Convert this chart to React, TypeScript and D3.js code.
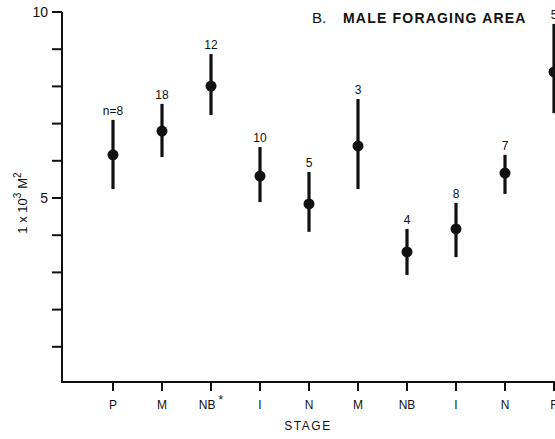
import React, { useEffect, useRef } from 'react'
import * as d3 from 'd3'

const stages = ['P', 'M', 'NB', 'I', 'N', 'M', 'NB', 'I', 'N', 'F']
const stageMarks = ['', '', '*', '', '', '', '', '', '', '']
const means = [6.16, 6.8, 8.01, 5.59, 4.84, 6.4, 3.55, 4.17, 5.67, 8.39]
const highs = [7.1, 7.53, 8.87, 6.37, 5.7, 7.66, 4.17, 4.87, 6.16, 9.68]
const lows = [5.24, 6.1, 7.23, 4.89, 4.09, 5.24, 2.93, 3.41, 5.11, 7.28]
const sampleLabels = ['n=8', '18', '12', '10', '5', '3', '4', '8', '7', '5']
const yTicks = [0, 1, 2, 3, 4, 5, 6, 7, 8, 9, 10]
const yTickLabels: Record<number, string> = { 5: '5', 10: '10' }

const App = () => {
     const svgRef = useRef<SVGSVGElement | null>(null)

     useEffect(() => {
          const width = 555
          const height = 439
          const axisX = 62
          const axisBottom = 384
          const font = '"Liberation Sans", Arial, sans-serif'

          const svg = d3.select(svgRef.current)
          svg.selectAll('*').remove()
          svg.attr('width', width).attr('height', height)

          const idx = stages.map((_, i) => String(i))
          const xScale = d3.scalePoint().domain(idx).range([113, 554])
          const yScale = d3.scaleLinear().domain([0, 10]).range([axisBottom, 12])

          const ink = '#111'

          // y axis
          svg.append('line')
               .attr('x1', axisX)
               .attr('x2', axisX)
               .attr('y1', yScale(10))
               .attr('y2', 382)
               .attr('stroke', ink)
               .attr('stroke-width', 2)
          svg.append('g')
               .selectAll('line')
               .data(yTicks.filter((t) => t > 0))
               .enter()
               .append('line')
               .attr('x1', axisX - 10)
               .attr('x2', axisX)
               .attr('y1', (d) => yScale(d))
               .attr('y2', (d) => yScale(d))
               .attr('stroke', ink)
               .attr('stroke-width', 2)
          svg.append('g')
               .selectAll('text')
               .data(yTicks.filter((t) => yTickLabels[t]))
               .enter()
               .append('text')
               .attr('x', axisX - 14)
               .attr('y', (d) => yScale(d) + 5)
               .attr('text-anchor', 'end')
               .style('font-family', font)
               .style('font-size', '14px')
               .style('fill', ink)
               .text((d) => yTickLabels[d])

          // x axis
          svg.append('line')
               .attr('x1', axisX - 1)
               .attr('x2', width)
               .attr('y1', 382)
               .attr('y2', 382)
               .attr('stroke', ink)
               .attr('stroke-width', 2)
          svg.append('g')
               .selectAll('line')
               .data(idx)
               .enter()
               .append('line')
               .attr('x1', (d) => xScale(d) as number)
               .attr('x2', (d) => xScale(d) as number)
               .attr('y1', 382)
               .attr('y2', 391)
               .attr('stroke', ink)
               .attr('stroke-width', 2)
          const xLabels = svg
               .append('g')
               .selectAll('text')
               .data(idx)
               .enter()
               .append('text')
               .attr('x', (d) => xScale(d) as number)
               .attr('y', 409)
               .attr('text-anchor', 'middle')
               .style('font-family', font)
               .style('font-size', '12px')
               .style('fill', ink)
               .text((d) => stages[+d])
          xLabels
               .filter((d) => stageMarks[+d] !== '')
               .append('tspan')
               .attr('dx', 3)
               .attr('dy', -5)
               .style('font-size', '12px')
               .text((d) => stageMarks[+d])

          svg.append('text')
               .attr('x', 308)
               .attr('y', 430)
               .attr('text-anchor', 'middle')
               .style('font-family', font)
               .style('font-size', '12px')
               .style('letter-spacing', '1.5px')
               .style('fill', ink)
               .text('STAGE')

          // y axis title
          const yTitle = svg
               .append('text')
               .attr('transform', 'translate(27,203) rotate(-90)')
               .attr('text-anchor', 'middle')
               .style('font-family', font)
               .style('font-size', '13px')
               .style('fill', ink)
          yTitle.append('tspan').text('1 x 10')
          yTitle.append('tspan').attr('dy', -6).style('font-size', '10px').text('3')
          yTitle.append('tspan').attr('dy', 6).attr('dx', 4).text('M')
          yTitle.append('tspan').attr('dy', -6).style('font-size', '10px').text('2')

          // title
          svg.append('text')
               .attr('x', 312)
               .attr('y', 23)
               .style('font-family', font)
               .style('font-size', '15px')
               .style('fill', ink)
               .text('B.')
          svg.append('text')
               .attr('x', 343)
               .attr('y', 23)
               .style('font-family', font)
               .style('font-size', '14px')
               .style('font-weight', 'bold')
               .style('letter-spacing', '1.2px')
               .style('fill', ink)
               .text('MALE FORAGING AREA')

          // error bars + means
          const pts = svg.append('g')
          pts.selectAll('line')
               .data(idx)
               .enter()
               .append('line')
               .attr('x1', (d) => xScale(d) as number)
               .attr('x2', (d) => xScale(d) as number)
               .attr('y1', (d) => yScale(highs[+d]))
               .attr('y2', (d) => yScale(lows[+d]))
               .attr('stroke', ink)
               .attr('stroke-width', 3.2)
          pts.selectAll('circle')
               .data(idx)
               .enter()
               .append('circle')
               .attr('cx', (d) => xScale(d) as number)
               .attr('cy', (d) => yScale(means[+d]))
               .attr('r', 5.5)
               .attr('fill', ink)
          pts.selectAll('text')
               .data(idx)
               .enter()
               .append('text')
               .attr('x', (d) => xScale(d) as number)
               .attr('y', (d) => yScale(highs[+d]) - 5)
               .attr('text-anchor', 'middle')
               .style('font-family', font)
               .style('font-size', '12px')
               .style('fill', ink)
               .text((d) => sampleLabels[+d])
     }, [])

     return (
          <div style={{ position: 'absolute', left: 0, top: 0, background: '#fff' }}>
               <svg ref={svgRef} style={{ display: 'block' }}></svg>
          </div>
     )
}

export default App
